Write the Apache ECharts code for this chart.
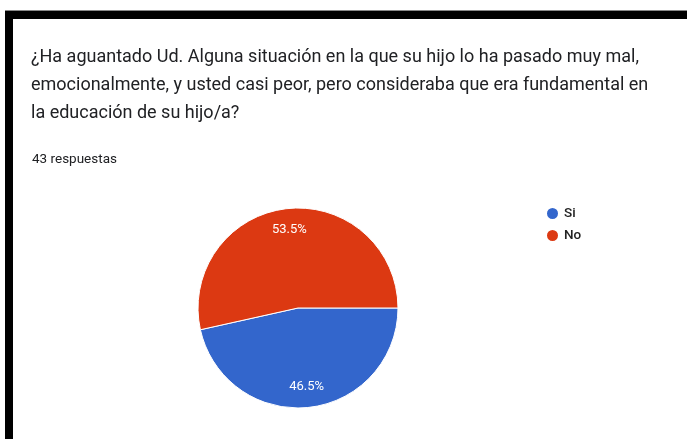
<!DOCTYPE html>
<html>
<head>
<meta charset="utf-8">
<script src="https://cdn.jsdelivr.net/npm/echarts@6/dist/echarts.min.js"></script>
<style>
	html, body { margin: 0; padding: 0; background: #fff; }
	#chart { width: 687px; height: 439px; }
</style>
</head>
<body>
<div id="chart"></div>
<script>
// answers and counts (43 respuestas)
const categories = ['Si', 'No']
const counts = [20, 23]
const colors = ['#3366cc', '#dc3912']

const questionLines = [
	'¿Ha aguantado Ud. Alguna situación en la que su hijo lo ha pasado muy mal,',
	'emocionalmente, y usted casi peor, pero consideraba que era fundamental en',
	'la educación de su hijo/a?',
]
const responsesText = '43 respuestas'

const chartDom = document.getElementById('chart')
const myChart = echarts.init(chartDom)

const pieData = categories.map((name, i) => ({
	name: name,
	value: counts[i],
	itemStyle: { color: colors[i] },
}))
const total = counts.reduce((a, b) => a + b, 0)

const option = {
	backgroundColor: '#fff',
	animation: false,
	title: [
		{
			text: questionLines.join('\n'),
			left: 31,
			top: 43,
			padding: 0,
			textStyle: {
				fontFamily: 'Roboto',
				fontSize: 18,
				fontWeight: 'normal',
				lineHeight: 28,
				color: '#202124',
			},
		},
		{
			text: responsesText,
			left: 32,
			top: 153,
			padding: 0,
			textStyle: {
				fontFamily: 'Roboto',
				fontSize: 13.5,
				fontWeight: 'normal',
				lineHeight: 14,
				color: '#202124',
			},
		},
	],
	legend: {
		orient: 'vertical',
		left: 545,
		top: 206,
		padding: 0,
		icon: 'circle',
		itemWidth: 13,
		itemHeight: 13,
		itemGap: 7,
		data: categories,
		textStyle: {
			fontFamily: 'Roboto',
			fontSize: 13.5,
			fontWeight: 500,
			lineHeight: 15,
			color: '#222',
		},
	},
	graphic: [
		{ type: 'rect', shape: { x: 5, y: 10, width: 682, height: 1 }, style: { fill: '#888' } },
		{ type: 'rect', shape: { x: 5, y: 11, width: 682, height: 8 }, style: { fill: '#000' } },
		{ type: 'rect', shape: { x: 5, y: 11, width: 8, height: 428 }, style: { fill: '#000' } },
	],
	series: [
		{
			type: 'pie',
			center: [298, 308],
			radius: [0, 100],
			startAngle: 0,
			clockwise: true,
			label: { show: false },
			labelLine: { show: false },
			itemStyle: { borderColor: '#fff', borderWidth: 1 },
			emphasis: { disabled: true },
			data: pieData,
		},
		{
			// transparent ring only used to place the percentage labels
			type: 'pie',
			center: [298, 308],
			radius: [52, 100],
			startAngle: 0,
			clockwise: true,
			silent: true,
			legendHoverLink: false,
			itemStyle: { color: 'rgba(0,0,0,0)' },
			label: {
				show: true,
				position: 'inside',
				fontFamily: 'Roboto',
				fontSize: 13,
				color: '#fff',
				formatter: p => (p.value / total * 100).toFixed(1) + '%',
			},
			labelLine: { show: false },
			emphasis: { disabled: true },
			data: categories.map((name, i) => ({ name: name + ' ', value: counts[i] })),
		},
	],
}

myChart.setOption(option)
</script>
</body>
</html>
